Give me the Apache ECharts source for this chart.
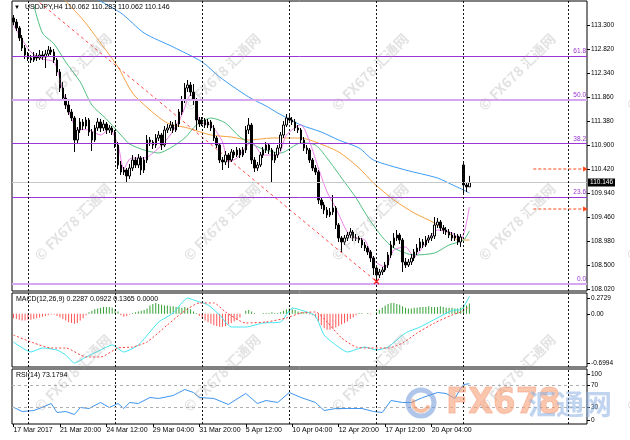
<!DOCTYPE html>
<html><head><meta charset="utf-8">
<script src="https://cdn.jsdelivr.net/npm/echarts@6/dist/echarts.min.js"></script>
<style>html,body{margin:0;padding:0;background:#fff}#c{width:630px;height:440px}</style>
</head><body><div id="c"></div><script>
// ---------- DATA ----------
const NSLOT = 198;
const opens = [
113.44,113.36,113.24,113.04,112.84,112.70,112.64,112.60,112.68,112.64,
112.70,112.66,112.72,112.80,112.76,112.60,112.36,112.04,111.84,111.70,
111.56,111.44,111.00,111.20,111.36,111.28,111.40,111.16,111.00,111.24,
111.36,111.24,111.32,111.20,111.24,111.16,110.90,110.50,110.36,110.40,
110.28,110.44,110.60,110.50,110.64,110.40,110.60,111.00,110.96,110.90,
111.04,111.10,110.90,111.20,111.24,111.30,111.20,111.32,111.56,111.80,
112.04,112.10,111.96,111.80,111.40,111.32,111.40,111.30,111.36,111.24,
111.04,110.90,110.60,110.56,110.70,110.60,110.76,110.70,110.80,110.70,
110.80,111.20,111.30,110.60,110.44,110.50,110.70,110.80,110.90,110.80,
110.60,110.70,110.84,111.10,111.30,111.44,111.40,111.36,111.24,111.20,
111.00,110.84,110.80,110.60,110.44,110.36,109.80,109.70,109.60,109.50,
109.56,109.64,109.30,109.04,108.96,109.04,109.10,109.16,109.04,109.04,
109.00,108.90,108.84,108.76,108.64,108.44,108.30,108.36,108.40,108.50,
108.70,108.90,109.04,109.10,109.00,108.56,108.50,108.56,108.64,108.76,
108.84,108.96,108.90,109.00,109.04,109.08,109.30,109.36,109.24,109.20,
109.16,109.10,109.04,109.08,108.96,110.50,110.10,110.062];
const closes = [
113.36,113.24,113.04,112.84,112.70,112.64,112.60,112.68,112.64,112.70,
112.66,112.72,112.80,112.76,112.60,112.36,112.04,111.84,111.70,111.56,
111.44,111.00,111.20,111.36,111.28,111.40,111.16,111.00,111.24,111.36,
111.24,111.32,111.20,111.24,111.16,110.90,110.50,110.36,110.40,110.28,
110.44,110.60,110.50,110.64,110.40,110.60,111.00,110.96,110.90,111.04,
111.10,110.90,111.20,111.24,111.30,111.20,111.32,111.56,111.80,112.04,
112.10,111.96,111.80,111.40,111.32,111.40,111.30,111.36,111.24,111.04,
110.90,110.60,110.56,110.70,110.60,110.76,110.70,110.80,110.70,110.80,
111.20,111.30,110.60,110.44,110.50,110.70,110.80,110.90,110.80,110.60,
110.70,110.84,111.10,111.30,111.44,111.40,111.36,111.24,111.20,111.00,
110.84,110.80,110.60,110.44,110.36,109.80,109.70,109.60,109.50,109.56,
109.64,109.30,109.04,108.96,109.04,109.10,109.16,109.04,109.04,109.00,
108.90,108.84,108.76,108.64,108.44,108.30,108.36,108.40,108.50,108.70,
108.90,109.04,109.10,109.00,108.56,108.50,108.56,108.64,108.76,108.84,
108.96,108.90,109.00,109.04,109.08,109.30,109.36,109.24,109.20,109.16,
109.10,109.04,109.08,108.96,109.06,110.10,110.062,110.146];
const highs = [
113.50,113.42,113.28,113.10,112.90,112.76,112.70,112.76,112.74,112.80,
112.78,112.80,112.88,112.86,112.82,112.64,112.42,112.16,111.92,111.78,
111.62,111.48,111.26,111.44,111.42,111.46,111.44,111.22,111.30,111.44,
111.42,111.40,111.36,111.30,111.28,111.20,110.96,110.58,110.46,110.44,
110.52,110.70,110.66,110.72,110.68,110.66,111.10,111.06,111.00,111.12,
111.18,111.14,111.28,111.32,111.38,111.36,111.40,111.62,111.88,112.14,
112.20,112.16,112.12,111.84,111.46,111.46,111.44,111.42,111.40,111.30,
111.08,110.94,110.66,110.78,110.74,110.82,110.80,110.86,110.84,110.86,
111.28,111.44,111.34,110.66,110.56,110.76,110.86,110.96,110.94,110.84,
110.76,110.90,111.16,111.38,111.52,111.50,111.46,111.42,111.30,111.24,
111.06,110.90,110.84,110.64,110.50,110.40,109.86,109.76,109.66,109.64,
109.90,109.68,109.34,109.08,109.10,109.16,109.24,109.20,109.12,109.08,
109.04,108.96,108.88,108.80,108.68,108.48,108.42,108.46,108.56,108.76,
108.98,109.14,109.20,109.14,109.04,108.64,108.62,108.72,108.82,108.92,
109.04,109.02,109.08,109.10,109.14,109.46,109.44,109.40,109.30,109.26,
109.22,109.16,109.14,109.12,109.12,110.55,110.14,110.283];
const lows = [
113.30,113.18,112.98,112.78,112.62,112.58,112.54,112.56,112.58,112.60,
112.60,112.44,112.68,112.70,112.54,112.28,111.96,111.78,111.62,111.50,
111.38,110.76,110.94,111.14,111.20,111.22,111.08,110.78,110.96,111.18,
111.16,111.18,111.12,111.14,111.10,110.84,110.42,110.30,110.30,110.14,
110.22,110.38,110.44,110.44,110.30,110.34,110.54,110.88,110.82,110.84,
110.98,110.80,110.86,111.14,111.18,111.14,111.16,111.26,111.50,111.74,
111.96,111.88,111.70,111.20,111.26,111.28,111.24,111.24,111.18,110.98,
110.84,110.54,110.40,110.50,110.44,110.56,110.64,110.66,110.64,110.66,
110.74,111.12,110.52,110.36,110.38,110.46,110.64,110.74,110.72,110.16,
110.54,110.64,110.78,111.04,111.26,111.34,111.30,111.18,111.14,110.94,
110.78,110.72,110.54,110.38,110.30,109.72,109.62,109.52,109.44,109.46,
109.50,109.22,108.96,108.76,108.90,108.98,109.04,108.98,108.98,108.94,
108.84,108.78,108.70,108.56,108.30,108.13,108.24,108.30,108.36,108.44,
108.64,108.84,108.98,108.92,108.36,108.44,108.46,108.50,108.58,108.70,
108.78,108.84,108.86,108.94,108.98,109.02,109.24,109.18,109.12,109.10,
109.04,108.98,108.98,108.90,108.86,109.94,109.96,110.062];

const maPink = [[0,113.30],[2,113.10],[6,112.76],[10,112.62],[14,112.56],[16,112.22],[18,111.76],[22,111.22],[26,111.20],[30,111.10],[33,111.22],[36,110.90],[38,110.42],[40,110.62],[42,110.64],[45,110.64],[50,110.84],[54,111.10],[58,111.50],[61,111.90],[63,111.76],[64,111.36],[68,111.30],[72,110.96],[74,110.56],[77,110.64],[82,110.96],[86,110.70],[91,110.70],[94,111.10],[99,111.30],[102,110.96],[105,110.44],[108,109.96],[111,109.64],[115,109.16],[118,109.04],[121,109.00],[124,108.60],[128,108.46],[131,108.80],[135,108.86],[138,108.66],[141,108.86],[146,109.20],[151,109.14],[154,109.00],[157,109.66]];
const maGreen = [[7,113.70],[10,113.14],[14,112.92],[18,112.56],[23,112.16],[27,111.70],[32,111.42],[37,111.10],[40,110.92],[45,110.80],[50,110.74],[54,110.84],[59,111.04],[63,111.30],[68,111.44],[73,111.34],[78,111.06],[85,110.84],[92,110.74],[99,110.94],[104,110.90],[109,110.56],[113,110.24],[118,109.84],[122,109.46],[127,109.06],[131,108.84],[138,108.70],[145,108.74],[150,108.90],[155,109.00],[157,109.18]];
const maOrange = [[16,113.90],[24,113.40],[30,112.94],[36,112.46],[41,111.94],[47,111.60],[53,111.34],[60,111.24],[68,111.10],[75,111.06],[81,111.00],[89,111.04],[99,111.04],[104,110.96],[112,110.76],[119,110.44],[124,110.14],[131,109.80],[138,109.54],[145,109.34],[150,109.14],[153,109.00],[157,109.00]];
const maBlue = [[26,113.90],[37,113.54],[45,113.14],[55,112.86],[65,112.56],[71,112.26],[81,111.86],[87,111.68],[91,111.54],[99,111.30],[106,111.16],[112,111.00],[119,110.84],[124,110.60],[135,110.40],[146,110.24],[152,110.08],[155,110.00],[157,109.94]];
const trendLine = [[9,113.75],[125,108.17]];

const macdHist = [
-0.06,-0.07,-0.08,-0.09,-0.09,-0.08,-0.08,-0.07,-0.06,
-0.05,-0.04,-0.03,-0.02,-0.01,-0.01,
-0.03,-0.05,-0.07,-0.09,-0.11,-0.12,-0.13,-0.12,-0.09,-0.06,-0.02,
0.02,0.04,0.06,0.07,0.08,0.09,0.09,0.09,0.08,0.06,0.03,
-0.02,-0.04,-0.03,-0.01,
0.01,0.02,0.03,0.04,0.05,0.07,
0.11,0.13,0.14,0.13,0.12,0.11,0.11,0.10,0.10,0.09,0.09,0.08,0.09,
0.08,0.06,0.03,0.01,
-0.03,-0.06,-0.09,-0.11,-0.13,-0.15,-0.16,-0.17,-0.17,-0.16,-0.14,-0.12,-0.10,-0.08,-0.05,
0.00,0.04,0.05,0.03,0.01,0.00,0.00,
0.01,0.01,0.01,0.02,0.01,0.01,0.02,
0.04,0.06,0.07,0.06,0.05,0.03,0.02,
0.02,0.01,-0.01,-0.02,
-0.05,-0.10,-0.15,-0.19,-0.21,-0.21,-0.20,-0.18,-0.16,-0.14,-0.12,-0.10,-0.07,-0.05,
-0.02,0.01,0.01,0.00,0.01,-0.01,0.00,
0.02,0.05,0.08,0.11,0.13,0.14,0.14,0.13,0.12,0.10,0.08,
0.07,0.07,0.08,0.08,0.09,0.09,0.09,0.10,0.09,0.09,0.09,0.10,0.09,0.08,0.08,0.08,0.07,0.07,0.08,0.12,0.11,0.1365];
const macdMain = [[0,-0.371],[6,-0.502],[10,-0.450],[15,-0.476],[18,-0.542],[21,-0.647],[25,-0.568],[30,-0.476],[34,-0.410],[38,-0.502],[43,-0.410],[47,-0.239],[50,-0.108],[55,0.010],[60,0.207],[62,0.181],[67,0.115],[71,-0.016],[75,-0.174],[80,-0.174],[86,-0.121],[92,-0.108],[96,0.076],[101,0.024],[104,-0.029],[107,-0.279],[111,-0.410],[115,-0.502],[121,-0.437],[125,-0.476],[129,-0.437],[135,-0.253],[140,-0.174],[146,-0.055],[152,0.050],[154,0.050],[157,0.2287]];
const macdSignal = [[0,-0.279],[7,-0.384],[13,-0.450],[18,-0.450],[25,-0.568],[30,-0.568],[36,-0.450],[41,-0.437],[46,-0.371],[53,-0.147],[58,0.010],[64,0.142],[69,0.142],[73,0.024],[80,-0.121],[87,-0.108],[94,-0.055],[99,0.010],[104,0.024],[108,-0.108],[113,-0.318],[118,-0.437],[123,-0.450],[129,-0.450],[134,-0.384],[139,-0.253],[145,-0.121],[151,-0.016],[154,0.024],[157,0.0922]];
const rsiPts = [[0,30.5],[3,22.7],[7,24.5],[10,30.5],[13,37.3],[15,20.9],[18,22.7],[21,17.3],[23,30],[26,28.2],[30,39.1],[33,30],[36,37.3],[38,28.2],[40,39.1],[43,37.3],[47,48.2],[50,46.4],[55,51.8],[59,62.7],[62,57.3],[64,48.2],[69,46.4],[74,35.5],[80,55.5],[84,37.3],[87,42.7],[91,39.1],[95,57.3],[99,48.2],[104,39.1],[107,24.5],[111,28.2],[115,28.2],[120,28.2],[124,22.7],[127,20.9],[130,42.7],[134,39.1],[137,39.1],[141,48.2],[146,57.3],[149,55.5],[152,46.4],[154,64.5],[155,71.8],[157,73.18]];

const timeLabels = ['17 Mar 2017','21 Mar 20:00','24 Mar 12:00','29 Mar 04:00','31 Mar 20:00','5 Apr 12:00','10 Apr 04:00','12 Apr 20:00','17 Apr 12:00','20 Apr 04:00'];
const labelStep = 16;
const separators = [5,35,65,95,125,155,191];
const priceTicks = [108.02,108.50,108.98,109.46,109.94,110.42,110.90,111.38,111.86,112.34,112.82,113.30];
const fibValues = [112.68,111.81,110.93,109.86,108.12];
const fibNames = ['61.8','50.0','38.2','23.6','0.0'];
const bidPrice = 110.146;
const arrowLevels = [110.42,109.62];
const arrowSpan = [179,197];
const macdTickVals = [0.207,0,-0.647];
const macdTickText = ['0.2729','0.00','-0.6994'];
const rsiTickVals = [90,70,30,6];
const rsiTickText = ['100','70','30','0'];
const rsiLevels = [70,30];
const headerText = 'USDJPY,H4 110.062 110.283 110.062 110.146';
const macdText = 'MACD(12,26,9) 0.2287 0.0922 0.1365 0.0000';
const rsiText = 'RSI(14) 73.1794';
const wmX = [73,222,370,517,665];
const wmY = [72,222,373];

// ---------- CHART ----------
const FONT = '"Liberation Sans", Arial, sans-serif';
const categories = Array.from({length: NSLOT}, (_, i) => String(i));
const candleData = closes.map((c, i) => [opens[i], c, lows[i], highs[i]]);
const sepMarks = separators.map(k => ({xAxis: k}));
const sepStyle = {color: '#111', type: [2, 2], width: 1};

const grids = [
  {left: 12, right: 43, top: 1, height: 290},
  {left: 12, right: 43, top: 293, height: 74},
  {left: 12, right: 43, top: 369, height: 55}
].map(g => Object.assign(g, {show: true, borderColor: '#000', borderWidth: 1, backgroundColor: 'transparent'}));

function catAxis(gi, showLabels) {
  return {
    type: 'category', gridIndex: gi, data: categories, boundaryGap: true,
    axisLine: {show: false},
    axisTick: showLabels ? {show: true, alignWithLabel: true, length: 3, lineStyle: {color: '#000'},
      interval: (i) => i % labelStep === 0 && i / labelStep < timeLabels.length} : {show: false},
    axisLabel: showLabels ? {show: true, align: 'left', margin: 3, fontSize: 7, color: '#000', fontFamily: FONT,
      interval: (i) => i % labelStep === 0 && i / labelStep < timeLabels.length,
      formatter: (v, i) => timeLabels[i / labelStep] || ''} : {show: false},
    splitLine: {show: false}
  };
}
function valAxis(gi, min, max, vals, fmt) {
  return {
    type: 'value', gridIndex: gi, position: 'right', min: min, max: max, scale: true,
    axisLine: {show: false}, splitLine: {show: false},
    axisTick: {show: true, customValues: vals, length: 3, lineStyle: {color: '#000'}},
    axisLabel: {show: true, customValues: vals, formatter: fmt, fontSize: 6.5, color: '#000', margin: 4, fontFamily: FONT}
  };
}

const fibMarks = fibValues.map((v, i) => {
  const heavy = fibNames[i] === '50.0' || fibNames[i] === '0.0';
  return {
    yAxis: v,
    lineStyle: {color: heavy ? '#d7a6f0' : '#9b35d6', width: heavy ? 2 : 1, type: 'solid'},
    label: {show: true, position: 'insideEndTop', formatter: fibNames[i], color: '#9b35d6', fontSize: 6.5, fontFamily: FONT, distance: 1}
  };
});
const bidMark = {
  yAxis: bidPrice,
  lineStyle: {color: '#c8c8c8', width: 1, type: 'solid'},
  label: {show: true, position: 'end', formatter: bidPrice.toFixed(3), color: '#fff', backgroundColor: '#000',
    padding: [1, 2, 0, 2], fontSize: 6.5, fontFamily: FONT, distance: 1}
};

function maSeries(name, data, color) {
  return {name, type: 'line', xAxisIndex: 0, yAxisIndex: 0, data, showSymbol: false, smooth: 0.25,
    lineStyle: {color, width: 1}, z: 3, silent: true, clip: true};
}
const arrowSeries = arrowLevels.map((p, i) => ({
  name: 'arrow' + i, type: 'line', xAxisIndex: 0, yAxisIndex: 0, silent: true, z: 5, clip: false,
  showSymbol: true, showAllSymbol: true,
  lineStyle: {color: '#ff4a1a', width: 1, type: [3, 2]},
  itemStyle: {color: '#ff4a1a'},
  data: [
    {value: [arrowSpan[0], p], symbol: 'none'},
    {value: [arrowSpan[1], p], symbol: 'triangle', symbolSize: 5, symbolRotate: -90}
  ]
}));

const graphics = [];
wmY.forEach(y => wmX.forEach(x => {
  graphics.push({type: 'text', x: x, y: y, rotation: Math.PI / 4, z: 50, silent: true,
    style: {text: '© FX678 汇通网', fill: 'rgba(150,150,150,0.28)', font: 'bold 14px "Noto Sans CJK SC", sans-serif',
      textAlign: 'center', textVerticalAlign: 'middle'}});
}));
graphics.push(
  {type: 'text', x: 14, y: 7, z: 60, style: {text: '▼', fill: '#000', font: '6px ' + FONT, textVerticalAlign: 'middle'}},
  {type: 'text', x: 25, y: 7, z: 60, style: {text: headerText, fill: '#000', font: '7px ' + FONT, textVerticalAlign: 'middle'}},
  {type: 'text', x: 16, y: 299, z: 60, style: {text: macdText, fill: '#000', font: '7px ' + FONT, textVerticalAlign: 'middle'}},
  {type: 'text', x: 16, y: 375, z: 60, style: {text: rsiText, fill: '#000', font: '7px ' + FONT, textVerticalAlign: 'middle'}},
  {type: 'circle', z: 55, shape: {cx: 421, cy: 403, r: 13}, style: {fill: 'none', stroke: 'rgba(110,150,215,0.55)', lineWidth: 5}},
  {type: 'arc', z: 56, shape: {cx: 421, cy: 403, r: 8, startAngle: 0.3, endAngle: 3.6}, style: {fill: 'none', stroke: 'rgba(240,140,90,0.55)', lineWidth: 4}},
  {type: 'text', x: 446, y: 404, z: 55, style: {text: 'FX678', fill: 'rgba(246,160,120,0.6)', stroke: 'rgba(240,130,90,0.4)', lineWidth: 1,
    font: 'bold 36px "Liberation Sans Narrow", "DejaVu Sans Condensed", sans-serif', textVerticalAlign: 'middle'}},
  {type: 'text', x: 528, y: 404, z: 55, style: {text: '汇通网', fill: 'rgba(140,175,225,0.55)',
    font: 'bold 28px "Noto Sans CJK SC", sans-serif', textVerticalAlign: 'middle'}}
);

const option = {
  animation: false,
  backgroundColor: '#fff',
  textStyle: {fontFamily: FONT},
  grid: grids,
  xAxis: [catAxis(0, false), catAxis(1, false), catAxis(2, true)],
  yAxis: [
    valAxis(0, 107.98, 113.78, priceTicks, v => v.toFixed(3)),
    valAxis(1, -0.6994, 0.2729, macdTickVals, v => macdTickText[macdTickVals.indexOf(v)] ?? ''),
    valAxis(2, 0, 100, rsiTickVals, v => rsiTickText[rsiTickVals.indexOf(v)] ?? '')
  ],
  graphic: graphics,
  series: [
    {name: 'USDJPY', type: 'candlestick', xAxisIndex: 0, yAxisIndex: 0, data: candleData, barWidth: 2, z: 4,
      itemStyle: {color: '#fff', color0: '#000', borderColor: '#000', borderColor0: '#000', borderWidth: 1},
      markLine: {symbol: 'none', silent: true, animation: false, data: fibMarks.concat([bidMark])}},
    Object.assign(maSeries('MA blue', maBlue, '#3d9bf2'),
      {markLine: {symbol: 'none', silent: true, animation: false, label: {show: false}, lineStyle: sepStyle, data: sepMarks}}),
    maSeries('MA orange', maOrange, '#f5a040'),
    maSeries('MA green', maGreen, '#4fbf7f'),
    maSeries('MA pink', maPink, '#ec7fe8'),
    {name: 'trend', type: 'line', xAxisIndex: 0, yAxisIndex: 0, data: trendLine, showSymbol: false, silent: true, z: 3,
      lineStyle: {color: '#ff4a4a', width: 1, type: [3, 3]},
      markPoint: {silent: true, symbol: 'path://M0,0L10,10M10,0L0,10', symbolSize: 5,
        itemStyle: {color: 'none', borderColor: '#ff2020', borderWidth: 1.2}, label: {show: false},
        data: [{coord: trendLine[1]}]}},
    ...arrowSeries,
    {name: 'MACD hist', type: 'bar', xAxisIndex: 1, yAxisIndex: 1, data: macdHist, barWidth: 1, silent: true,
      itemStyle: {color: p => p.value >= 0 ? '#34a034' : '#ff5656'},
      markLine: {symbol: 'none', silent: true, animation: false, label: {show: false}, lineStyle: sepStyle, data: sepMarks}},
    {name: 'MACD', type: 'line', xAxisIndex: 1, yAxisIndex: 1, data: macdMain, showSymbol: false, smooth: 0.2, silent: true,
      lineStyle: {color: '#3fe6f0', width: 1}},
    {name: 'Signal', type: 'line', xAxisIndex: 1, yAxisIndex: 1, data: macdSignal, showSymbol: false, smooth: 0.2, silent: true,
      lineStyle: {color: '#ff4040', width: 1, type: [2, 2]}},
    {name: 'RSI', type: 'line', xAxisIndex: 2, yAxisIndex: 2, data: rsiPts, showSymbol: false, silent: true,
      lineStyle: {color: '#3d95f0', width: 1},
      markLine: {symbol: 'none', silent: true, animation: false, label: {show: false},
        data: sepMarks.map(m => Object.assign({}, m, {lineStyle: sepStyle})).concat(
          rsiLevels.map(v => ({yAxis: v, lineStyle: {color: '#b0b0b0', width: 1, type: [3, 3]}})))}}
  ]
};
const chart = echarts.init(document.getElementById('c'));
chart.setOption(option);
</script></body></html>
